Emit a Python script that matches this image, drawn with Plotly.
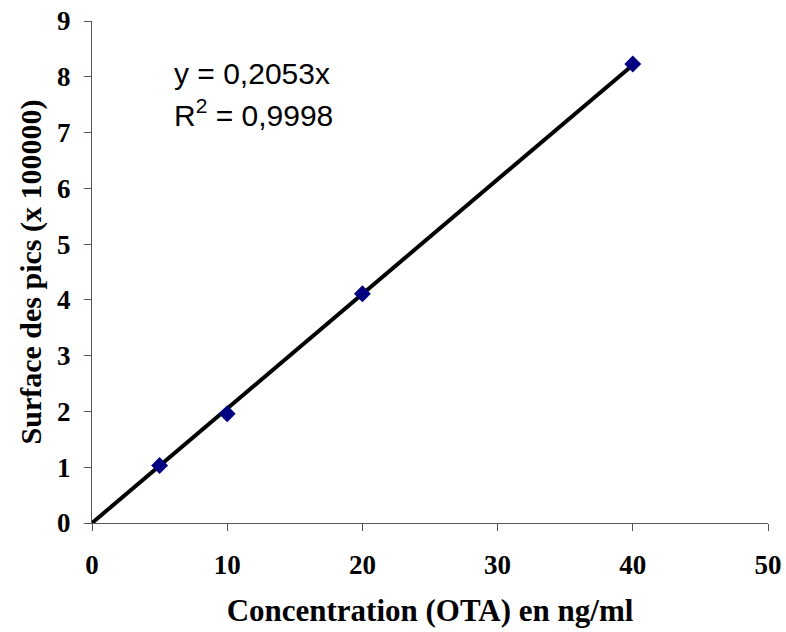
import plotly.graph_objects as go

concentration = [5, 10, 20, 40]
surface = [1.03, 1.96, 4.11, 8.23]
slope = 0.2053
r2 = 0.9998
trend_x = [0, 40]
trend_y = [slope * v for v in trend_x]

x_ticks = [0, 10, 20, 30, 40, 50]
y_ticks = [0, 1, 2, 3, 4, 5, 6, 7, 8, 9]

fig = go.Figure()
fig.add_trace(go.Scatter(x=trend_x, y=trend_y, mode="lines",
                         line=dict(color="black", width=4), showlegend=False))
fig.add_trace(go.Scatter(x=concentration, y=surface, mode="markers",
                         marker=dict(symbol="diamond", size=13, color="#000080",
                                     line=dict(width=0)), showlegend=False))

tick_font = dict(family="Liberation Serif", size=27, color="black", weight="bold")
fig.update_layout(
    width=786, height=632,
    margin=dict(l=92, r=18, t=21, b=109),
    plot_bgcolor="white", paper_bgcolor="white",
    xaxis=dict(range=[0, 50], tickvals=x_ticks, showgrid=False, zeroline=False,
               showline=True, linecolor="#555", linewidth=1.3, automargin=False,
               ticks="outside", ticklen=7, tickcolor="#555",
               tickfont=tick_font, ticklabelstandoff=10,
               title=dict(text="<b>Concentration (OTA) en ng/ml</b>",
                          font=dict(family="Liberation Serif", size=31, color="black"),
                          standoff=20)),
    yaxis=dict(range=[0, 9], tickvals=y_ticks, showgrid=False, zeroline=False,
               showline=True, linecolor="#555", linewidth=1.3, automargin=False,
               ticks="outside", ticklen=7, tickcolor="#555",
               tickfont=tick_font, ticklabelstandoff=8,
               title=dict(text="<b>Surface des pics (x 100000)</b>",
                          font=dict(family="Liberation Serif", size=30, color="black"),
                          standoff=6)),
    annotations=[
        dict(x=5.9, y=8.05, xref="x", yref="y", xanchor="left", yanchor="middle",
             text=f"y = {str(slope).replace('.', ',')}x", showarrow=False,
             font=dict(family="Liberation Sans", size=30, color="black")),
        dict(x=5.9, y=7.35, xref="x", yref="y", xanchor="left", yanchor="middle",
             text=f"R<sup>2</sup> = {str(r2).replace('.', ',')}", showarrow=False,
             font=dict(family="Liberation Sans", size=30, color="black")),
    ],
)
fig.write_html("out.html", config={"displayModeBar": False},
               post_script="document.body.style.margin='0';")
